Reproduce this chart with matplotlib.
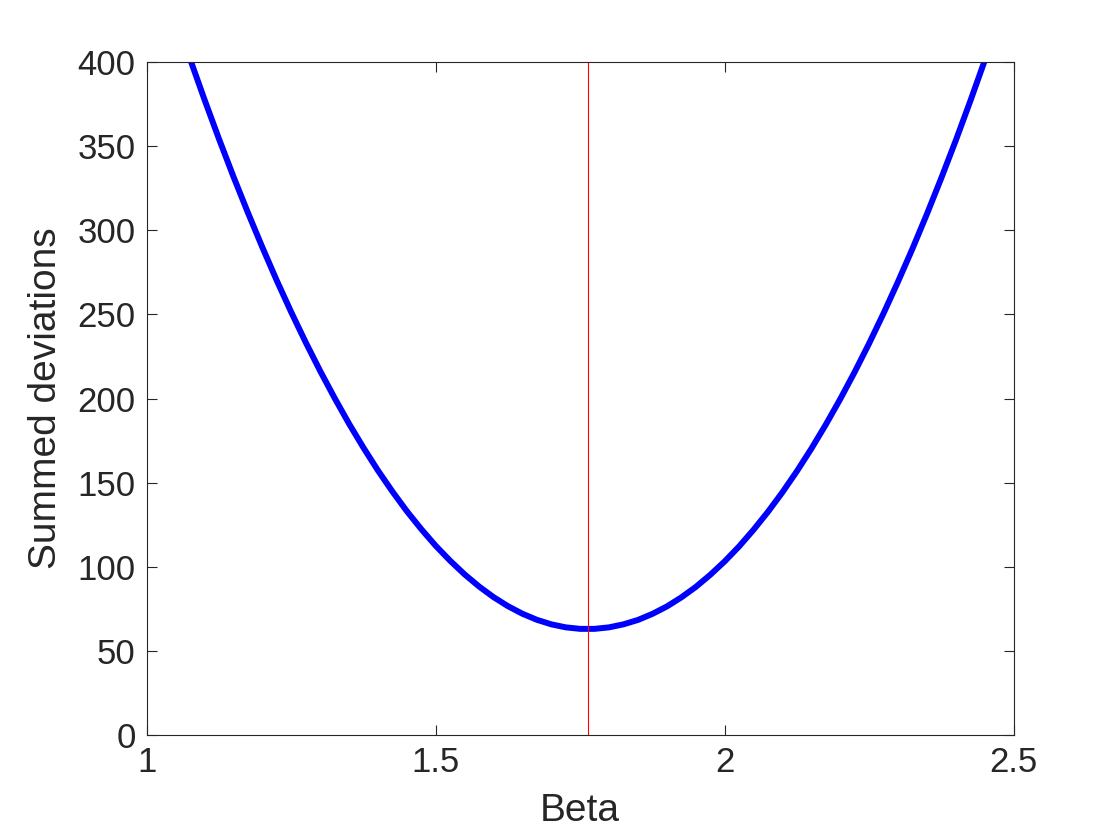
import matplotlib
matplotlib.use("Agg")
import matplotlib.pyplot as plt

beta = [1.050, 1.075, 1.100, 1.125, 1.150, 1.175, 1.200, 1.225, 1.250, 1.275,
        1.300, 1.325, 1.350, 1.375, 1.400, 1.425, 1.450, 1.475, 1.500, 1.525,
        1.550, 1.575, 1.600, 1.625, 1.650, 1.675, 1.700, 1.725, 1.750, 1.775,
        1.800, 1.825, 1.850, 1.875, 1.900, 1.925, 1.950, 1.975, 2.000, 2.025,
        2.050, 2.075, 2.100, 2.125, 2.150, 2.175, 2.200, 2.225, 2.250, 2.275,
        2.300, 2.325, 2.350, 2.375, 2.400, 2.425, 2.450, 2.475, 2.500]
dev = [427.0, 401.9, 377.7, 354.4, 332.0, 310.6, 290.0, 270.2, 251.4, 233.5,
       216.5, 200.4, 185.1, 170.8, 157.3, 144.8, 133.1, 122.4, 112.5, 103.6,
       95.5, 88.3, 82.0, 76.6, 72.1, 68.5, 65.8, 64.0, 63.1, 63.1,
       64.0, 65.8, 68.4, 72.0, 76.4, 81.8, 88.0, 95.2, 103.2, 112.1,
       122.0, 132.7, 144.3, 156.8, 170.2, 184.5, 199.7, 215.8, 232.8, 250.7,
       269.5, 289.1, 309.7, 331.2, 353.5, 376.8, 400.9, 426.0, 451.9]
beta_best = 1.763
xticks = [1, 1.5, 2, 2.5]
xtick_labels = ["1", "1.5", "2", "2.5"]
yticks = [0, 50, 100, 150, 200, 250, 300, 350, 400]

plt.rcParams['font.family'] = ['Liberation Sans', 'DejaVu Sans']
txt = '#262626'
fig = plt.figure(figsize=(11.2, 8.4), dpi=100)
ax = fig.add_axes([0.131, 0.125, 0.774, 0.801])

ax.plot(beta, dev, color='#0000ff', lw=4.3, solid_joinstyle='round',
        solid_capstyle='butt')
ax.axvline(beta_best, color='#ff0000', lw=0.8)

ax.set_xlim(1, 2.5)
ax.set_ylim(0, 400)
ax.set_xticks(xticks)
ax.set_xticklabels(xtick_labels)
ax.set_yticks(yticks)
ax.tick_params(direction='in', top=True, right=True, length=7, width=0.8,
               labelsize=25, colors=txt, pad=8)
for s in ax.spines.values():
    s.set_color(txt)
    s.set_linewidth(0.8)
ax.set_xlabel('Beta', fontsize=28, color=txt, labelpad=10)
ax.set_ylabel('Summed deviations', fontsize=28, color=txt, labelpad=10)

fig.savefig('out.png', dpi=100)
